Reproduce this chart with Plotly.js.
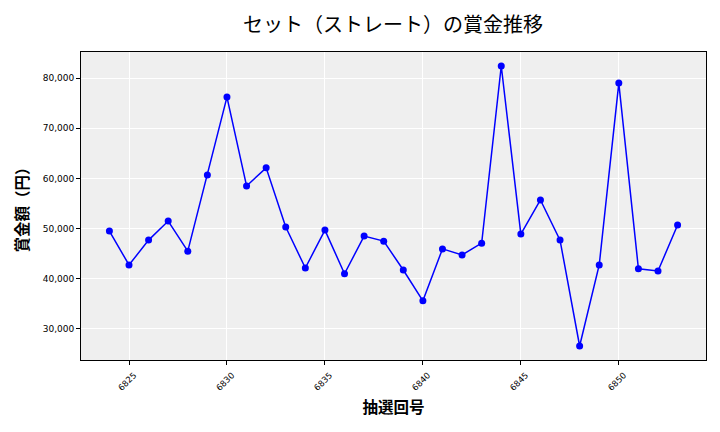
<!DOCTYPE html>
<html><head><meta charset="utf-8">
<script src="https://cdn.plot.ly/plotly-3.0.1.min.js"></script>
<style>html,body{margin:0;padding:0;background:#fff}#chart{width:720px;height:432px}</style>
</head><body><div id="chart"></div>
<script>
const draws = [6824,6825,6826,6827,6828,6829,6830,6831,6832,6833,6834,6835,6836,6837,6838,6839,6840,6841,6842,6843,6844,6845,6846,6847,6848,6849,6850,6851,6852,6853];
const prizes = [49500,42750,47700,51500,45500,60700,76200,58500,62100,50300,42150,49700,41000,48500,47500,41750,35600,45950,44750,47100,82400,48900,55700,47700,26600,42750,79000,42000,41550,50700];
const xTicks = [6825,6830,6835,6840,6845,6850];
const yTicks = [30000,40000,50000,60000,70000,80000];
const yTickText = yTicks.map(v => v.toLocaleString('en-US'));
const font = '"Noto Sans CJK JP", "DejaVu Sans", sans-serif';

Plotly.newPlot('chart', [{
  x: draws, y: prizes, type: 'scatter', mode: 'lines+markers',
  line: {color: '#0000ff', width: 1.5},
  marker: {color: '#0000ff', size: 7}
}], {
  width: 720, height: 432,
  paper_bgcolor: '#ffffff', plot_bgcolor: '#efefef',
  margin: {l: 81, r: 14, t: 52, b: 72},
  showlegend: false,
  title: {text: 'セット（ストレート）の賞金推移', x: 0.546, xanchor: 'center', y: 0.943, yanchor: 'middle',
          font: {family: font, size: 20, color: '#000'}},
  xaxis: {
    range: [6822.55, 6854.45], tickvals: xTicks, ticktext: xTicks.map(String),
    tickangle: -45, tickfont: {family: '"DejaVu Sans", sans-serif', size: 8.5, color: '#000'},
    ticklabelshift: 5, ticklabelstandoff: 2,
    ticks: 'outside', ticklen: 4, tickcolor: '#000',
    showgrid: true, gridcolor: '#ffffff', gridwidth: 1, zeroline: false,
    showline: true, linecolor: '#000', linewidth: 1, mirror: true,
    title: {text: '<b>抽選回号</b>', font: {family: font, size: 15.5, color: '#000'}, standoff: 10}
  },
  yaxis: {
    range: [23810, 85190], tickvals: yTicks, ticktext: yTickText,
    tickfont: {family: '"DejaVu Sans", sans-serif', size: 9, color: '#000'},
    ticks: 'outside', ticklen: 4, tickcolor: '#000',
    showgrid: true, gridcolor: '#ffffff', gridwidth: 1, zeroline: false,
    showline: true, linecolor: '#000', linewidth: 1, mirror: true,
    title: {text: '<b>賞金額（円）</b>', font: {family: font, size: 15.5, color: '#000'}, standoff: 10}
  }
}, {displayModeBar: false, staticPlot: true});
</script></body></html>
